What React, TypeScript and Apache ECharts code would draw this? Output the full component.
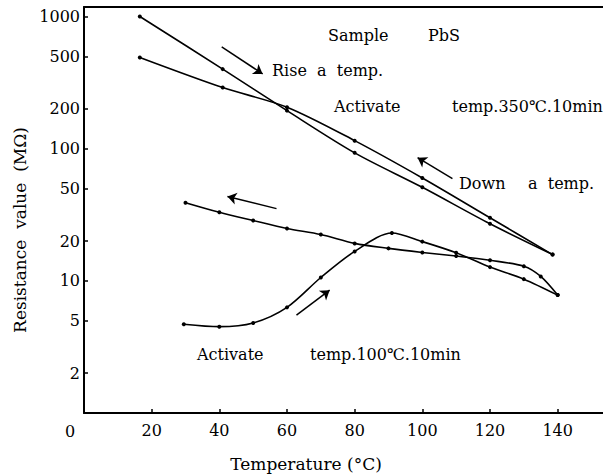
import React, { useEffect, useRef } from "react";
import * as echarts from "echarts";

// Activation 350°C, 10 min — rising temperature
const rise350T = [16.5, 41, 60, 80, 100, 120, 138.5];
const rise350R = [1000, 400, 194, 93, 51, 27, 15.8];
// Activation 350°C, 10 min — falling temperature
const down350T = [16.5, 41, 60, 80, 100, 120, 138.5];
const down350R = [490, 290, 206, 115, 60, 30, 15.8];
// Activation 100°C, 10 min — rising temperature
const rise100T = [29.5, 40, 50, 60, 70, 80, 91, 100, 110, 120, 130, 140];
const rise100R = [4.7, 4.5, 4.8, 6.3, 10.6, 16.7, 23, 19.8, 16.3, 12.7, 10.3, 7.8];
// Activation 100°C, 10 min — falling temperature
const down100T = [30, 40, 50, 60, 70, 80, 90, 100, 110, 120, 130, 135, 140];
const down100R = [39, 33, 28.6, 24.9, 22.4, 19.2, 17.6, 16.4, 15.4, 14.3, 12.9, 10.8, 7.8];

const xTickValues = [20, 40, 60, 80, 100, 120, 140];
const yTickValues = [2, 5, 10, 20, 50, 100, 200, 500, 1000];

// direction arrows: [T start, R start, T end, R end]
const arrowStartT = [40.7, 108.9, 56.9, 62.8];
const arrowStartR = [589, 59.4, 35.2, 5.5];
const arrowEndT = [52.8, 98.6, 42.4, 72.6];
const arrowEndR = [368, 85.5, 43.5, 8.5];

const lg = (v: number) => Math.log10(v);
const pairs = (T: number[], R: number[]) => T.map((t, i) => [t, lg(R[i])]);

const FONT = "DejaVu Serif";
const X_MAX = 153.4;

export default function App() {
  const ref = useRef<HTMLDivElement>(null);
  useEffect(() => {
    if (!ref.current) return;
    const chart = echarts.init(ref.current, undefined, { renderer: "svg" });
    const lineStyle = { color: "#000", width: 1.6 };
    const mkSeries = (name: string, T: number[], R: number[], extra: any = {}) => ({
      name,
      type: "line",
      data: pairs(T, R),
      smooth: 0.3,
      symbol: "circle",
      symbolSize: 4,
      itemStyle: { color: "#000" },
      lineStyle,
      ...extra,
    });
    const txt = (text: string, x: number, y: number, extra: any = {}) => ({
      type: "text",
      x,
      y,
      style: {
        text,
        fill: "#000",
        fontFamily: FONT,
        fontSize: 16,
        textAlign: "left",
        textVerticalAlign: "middle",
        ...extra,
      },
    });
    chart.setOption({
      animation: false,
      grid: { left: 84, right: 0, top: 7, bottom: 63, show: false },
      xAxis: [
        {
          type: "value",
          min: 0,
          max: X_MAX,
          axisLine: { show: true, lineStyle: { color: "#000", width: 2 } },
          axisTick: {
            show: true,
            inside: true,
            length: 4,
            customValues: xTickValues,
            lineStyle: { color: "#000", width: 1.5 },
          },
          axisLabel: {
            customValues: xTickValues,
            margin: 9,
            fontFamily: FONT,
            fontSize: 16,
            color: "#000",
          },
          splitLine: { show: false },
        },
        {
          type: "value",
          position: "top",
          min: 0,
          max: X_MAX,
          axisLine: { show: true, lineStyle: { color: "#000", width: 2 } },
          axisTick: { show: false },
          axisLabel: { show: false },
          splitLine: { show: false },
        },
      ],
      yAxis: {
        type: "value",
        min: 0,
        max: 3.072,
        axisLine: { show: true, lineStyle: { color: "#000", width: 2 } },
        axisTick: {
          show: true,
          inside: true,
          length: 4,
          customValues: yTickValues.map(lg),
          lineStyle: { color: "#000", width: 1.5 },
        },
        axisLabel: {
          customValues: yTickValues.map(lg),
          formatter: (v: number) => String(Math.round(Math.pow(10, v))),
          margin: 4,
          fontFamily: FONT,
          fontSize: 16,
          color: "#000",
        },
        splitLine: { show: false },
      },
      series: [
        mkSeries("Rise 350", rise350T, rise350R, {
          markLine: {
            silent: true,
            symbol: ["none", "arrow"],
            symbolSize: 9,
            lineStyle: { color: "#000", width: 1.5, type: "solid" },
            label: { show: false },
            data: arrowStartT.map((t, i) => [
              { coord: [t, lg(arrowStartR[i])] },
              { coord: [arrowEndT[i], lg(arrowEndR[i])] },
            ]),
          },
        }),
        mkSeries("Down 350", down350T, down350R),
        mkSeries("Rise 100", rise100T, rise100R),
        mkSeries("Down 100", down100T, down100R),
      ],
      graphic: [
        txt("Sample", 328, 35),
        txt("PbS", 428, 35),
        txt("Rise  a  temp.", 272, 70),
        txt("Activate", 334, 106),
        txt("temp.350℃.10min", 452, 106),
        txt("Down", 459, 183),
        txt("a  temp.", 528, 183),
        txt("Activate", 197, 354),
        txt("temp.100℃.10min", 310, 354),
        txt("0", 70, 431, { textAlign: "center" }),
        txt("Temperature (°C)", 306, 464, { textAlign: "center", fontSize: 17 }),
        {
          type: "text",
          x: 20,
          y: 230,
          rotation: Math.PI / 2,
          style: {
            text: "Resistance  value  (MΩ)",
            fill: "#000",
            fontFamily: FONT,
            fontSize: 17,
            textAlign: "center",
            textVerticalAlign: "middle",
          },
        },
      ],
    });
    return () => chart.dispose();
  }, []);
  return (
    <div
      ref={ref}
      style={{ position: "fixed", left: 0, top: 0, width: 603, height: 476, background: "#fff" }}
    />
  );
}
